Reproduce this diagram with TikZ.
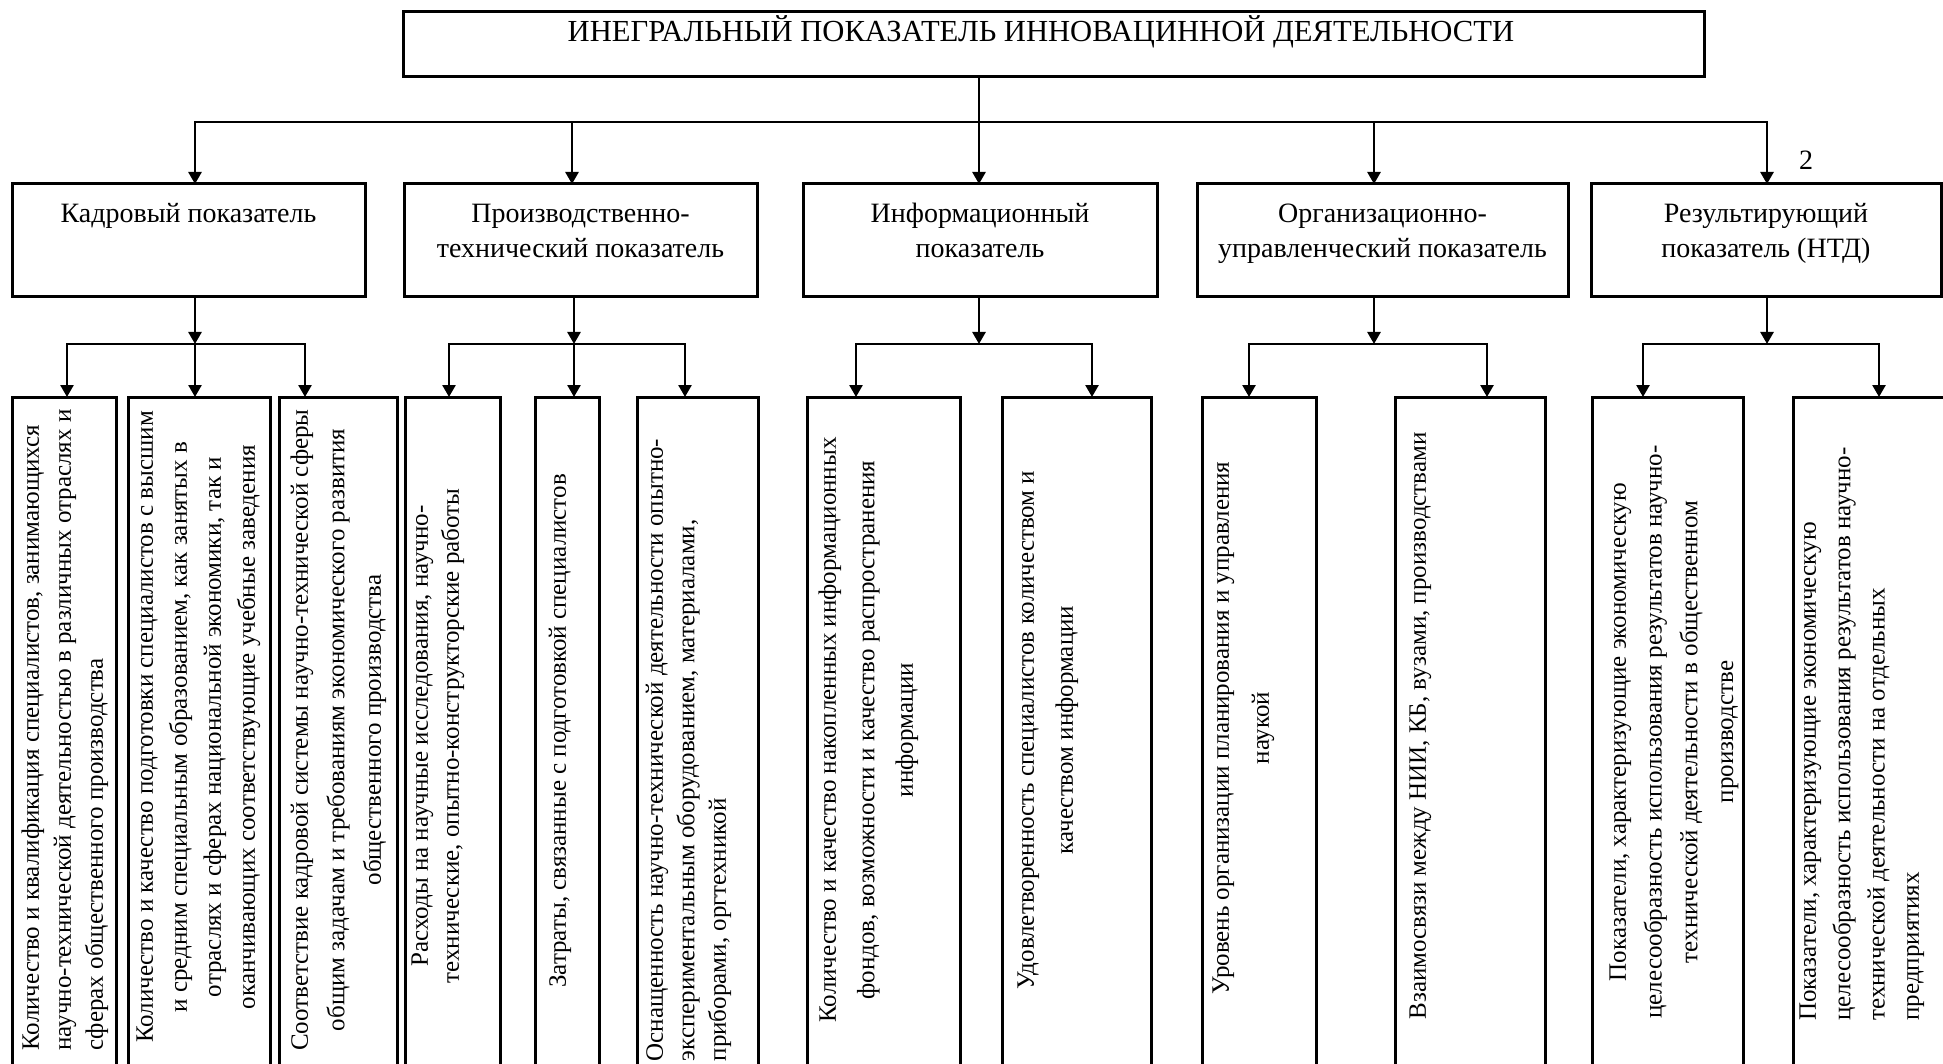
\documentclass[tikz,border=0pt]{standalone}
\usepackage{fontspec}
\setmainfont{Liberation Serif}
\usetikzlibrary{arrows.meta,calc,positioning}

\begin{document}
\begin{tikzpicture}[x=1pt,y=-1pt,
    box/.style={draw,line width=3pt,inner sep=0pt,outer sep=0pt,anchor=north west},
    conn/.style={line width=2.6pt},
    arr/.style={conn,-{Triangle[length=12pt,width=13pt]}},
    head/.style={font=\fontsize{28}{35}\selectfont,align=center,anchor=north,inner sep=0pt},
    vert/.style={font=\fontsize{25}{#1}\selectfont,rotate=90,anchor=north,inner sep=0pt},
    vert/.default=34]
    \useasboundingbox (0,0) rectangle (1943,1064);
    \clip (0,0) rectangle (1943,1064);
    % integral indicator
    \node[box,minimum width=1301pt,minimum height=65pt] (top) at (403,12) {};
    \node[font=\fontsize{30.6}{36}\selectfont,anchor=base,inner sep=0pt] (topT) at (1041,42) {ИНЕГРАЛЬНЫЙ ПОКАЗАТЕЛЬ ИННОВАЦИННОЙ ДЕЯТЕЛЬНОСТИ};
    \node[font=\fontsize{28}{35}\selectfont] (num) at (1806,160) {2};
    % second level
    \foreach \n/\xa/\xb/\tx/\jx/\lbl in {kad/12/365/195/195/{Кадровый показатель},
        prt/404/757/572/574/{Производственно-\\технический показатель},
        inf/803/1157/979/979/{Информационный\\показатель},
        org/1197/1568/1374/1374/{Организационно-\\управленческий показатель},
        res/1591/1941/1767/1767/{Результирующий\\показатель (НТД)}}{
        \node[box,minimum width={(\xb-\xa)*1pt},minimum height=113pt] (\n) at (\xa,184) {};
        \node[head] (\n-t) at ($(\n.north)+(0,13.5)$) {\strut\lbl};
        \coordinate (\n-bus) at (\tx,122);
        \coordinate (\n-jn) at (\jx,344);
        \draw[arr] (\n-bus) -- (\n-bus |- \n.north);
        \draw[arr] (\n-jn |- \n.south) -- (\n-jn);
    }
    \draw[conn] (inf-bus |- top.south) -- (inf-bus);
    \draw[conn,line cap=rect] (kad-bus) -- (res-bus);
    % third level: name/box x/arrow x/first line x/line step/centre y/align/text
    \foreach \c/\xa/\xb/\ax/\lx/\bs/\yc/\al/\lbl in {
        a1/12/116/67/33/32/730/left/{Количество и квалификация специалистов, занимающихся\\научно-технической деятельностью в различных отраслях и\\сферах общественного производства},
        a2/128/270/195/147/34/727/center/{Количество и качество подготовки специалистов с высшим\\и средним специальным образованием, как занятых в\\отраслях и сферах национальной экономики, так и\\оканчивающих соответствующие учебные заведения},
        a3/279/397/305/302/36.5/730/center/{Соответствие кадровой системы научно-технической сферы\\общим задачам и требованиям экономического развития\\общественного производства},
        b1/405/500/449/422/31/736/center/{Расходы на научные исследования, научно-\\технические, опытно-конструкторские работы},
        b2/535/599/574/560/34/731/center/{Затраты, связанные с подготовкой специалистов},
        b3/637/758/685/657/31.5/750/left/{Оснащенность научно-технической деятельности опытно-\\экспериментальным оборудованием, материалами,\\приборами, оргтехникой},
        c1/807/960/856/830/38.5/730/center/{Количество и качество накопленных информационных\\фондов, возможности и качество распространения\\информации},
        c2/1002/1151/1092/1028/39/730/center/{Удовлетворенность специалистов количеством и\\качеством информации},
        d1/1202/1316/1249/1223/40/728/center/{Уровень организации планирования и управления\\наукой},
        d2/1395/1545/1487/1420/34/726/center/{Взаимосвязи между НИИ, КБ, вузами, производствами},
        e1/1592/1743/1643/1620/35.7/732/center/{Показатели, характеризующие экономическую\\целесообразность использования результатов научно-\\технической деятельности в общественном\\производстве},
        e2/1793/1945/1879/1810/34.3/734/left/{Показатели, характеризующие экономическую\\целесообразность использования результатов научно-\\технической деятельности на отдельных\\предприятиях}}{
        \node[box,minimum width={(\xb-\xa)*1pt},minimum height=680pt] (\c) at (\xa,397) {};
        \node[vert=\bs,align=\al] (\c-t) at (\lx-0.7*\bs+5.75,\yc) {\strut\lbl};
        \coordinate (\c-jn) at (\ax,344);
        \draw[arr] (\c-jn) -- (\c-jn |- \c.north);
    }
    \foreach \a/\b in {a1/a3,b1/b3,c1/c2,d1/d2,e1/e2}
    \draw[conn,line cap=rect] (\a-jn) -- (\b-jn);
\end{tikzpicture}
\end{document}
